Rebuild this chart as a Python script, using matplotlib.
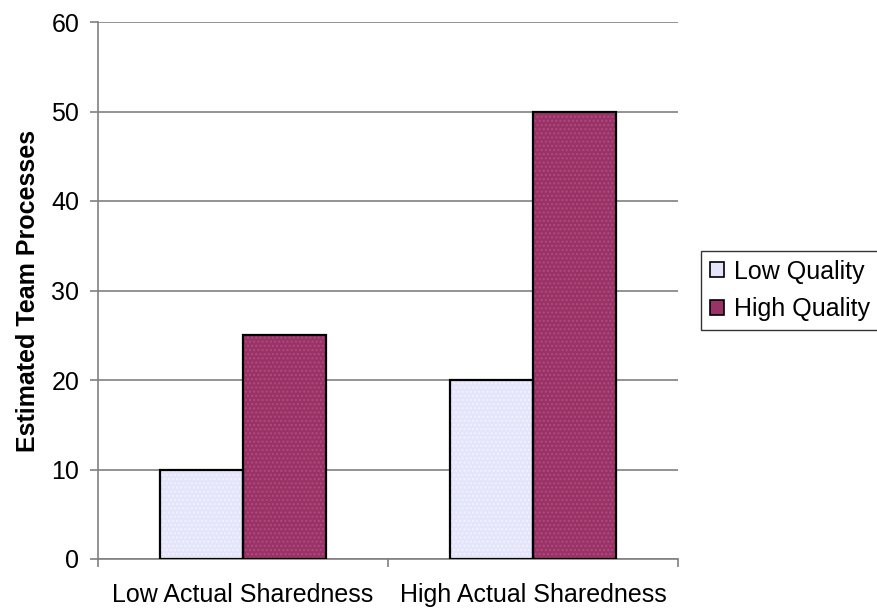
import numpy as np
import matplotlib.pyplot as plt

plt.rcParams['font.family'] = ['Liberation Sans', 'DejaVu Sans']

categories = ['Low Actual Sharedness', 'High Actual Sharedness']
series_names = ['Low Quality', 'High Quality']
low_quality = [10, 20]
high_quality = [25, 50]
y_ticks = [0, 10, 20, 30, 40, 50, 60]

colors = ['#E4E4FA', '#993366']
hatch_colors = ['#F2F2FF', '#B04A80']

fig = plt.figure(figsize=(8.77, 6.09), dpi=100)
ax = fig.add_axes([98 / 877, 50 / 609, 580 / 877, 537 / 609])

x = np.arange(len(categories)) + 0.5
w = 1 / 3.5
handles = []
for i, (vals, name) in enumerate(zip([low_quality, high_quality], series_names)):
    pos = x + (i - 0.5) * w
    # faint dotted texture, then solid outline on top
    ax.bar(pos, vals, w, color=colors[i], edgecolor=hatch_colors[i],
           hatch='....', linewidth=0, zorder=2)
    ax.bar(pos, vals, w, facecolor='none', edgecolor='black',
           linewidth=1.6, zorder=3)
    handles.append(plt.Rectangle((0, 0), 1, 1, facecolor=colors[i],
                                 edgecolor='black', linewidth=1.2))

ax.set_xlim(0, 2)
ax.set_ylim(0, 60)
ax.set_yticks(y_ticks)
ax.yaxis.grid(True, color='#808080', linewidth=1.2, zorder=0)
ax.set_axisbelow(True)

ax.set_xticks([0, 1, 2])
ax.set_xticklabels([])
ax.set_xticks(x, minor=True)
ax.set_xticklabels(categories, minor=True)
ax.tick_params(axis='x', which='minor', length=0, pad=17, labelsize=18)
ax.tick_params(axis='x', which='major', length=6, color='#808080', width=1.2)
ax.tick_params(axis='y', length=6, color='#808080', width=1.2, labelsize=18, pad=7.5)

for s in ['top', 'right']:
    ax.spines[s].set_visible(False)
ax.spines['left'].set_color('#808080')
ax.spines['bottom'].set_color('#808080')
ax.spines['left'].set_linewidth(1.2)
ax.spines['bottom'].set_linewidth(1.2)

ax.set_ylabel('Estimated Team Processes', fontsize=18, fontweight='bold', labelpad=8)

leg = fig.legend(handles, series_names, loc='center left',
                 bbox_to_anchor=(701 / 877, 1 - 290.5 / 609), fontsize=18,
                 frameon=True, fancybox=False, edgecolor='black',
                 handlelength=0.55, handleheight=0.55, handletextpad=0.4,
                 borderpad=0.35, labelspacing=0.55, borderaxespad=0)
leg.get_frame().set_linewidth(1.0)

fig.savefig('out.png', dpi=100)
